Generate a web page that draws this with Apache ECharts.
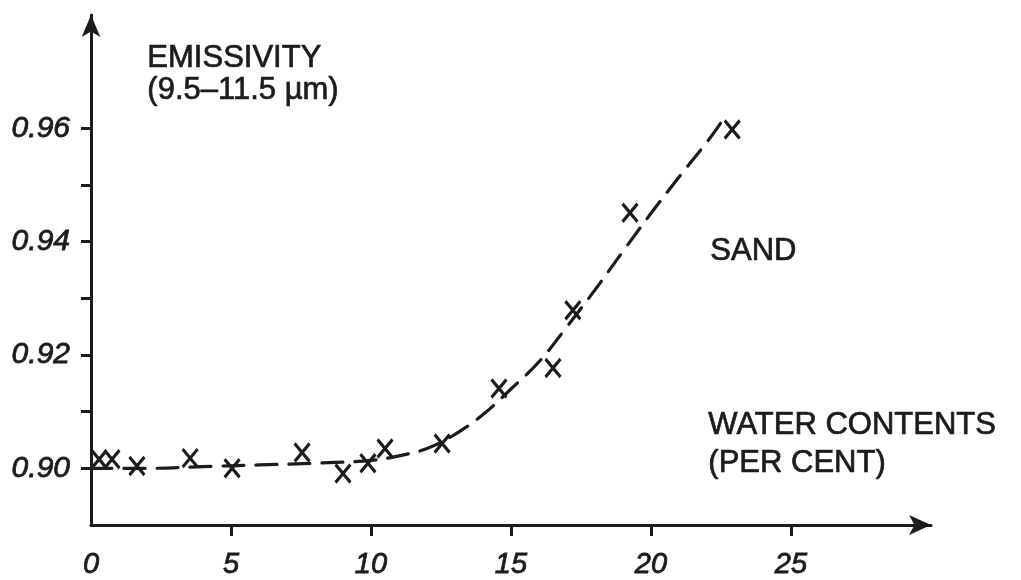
<!DOCTYPE html>
<html>
<head>
<meta charset="utf-8">
<script src="https://cdn.jsdelivr.net/npm/echarts@6/dist/echarts.min.js"></script>
<style>
  html, body { margin: 0; padding: 0; background: #fff; }
  #chart { width: 1021px; height: 580px; }
</style>
</head>
<body>
<div id="chart"></div>
<script>
// Measured emissivity (9.5-11.5 µm band) of sand against water content (%)
const waterContent = [0.29, 0.75, 1.64, 3.54, 5.04, 7.54, 9.0, 9.89, 10.5, 12.54, 14.57, 16.5, 17.21, 19.25, 22.9];
const emissivity   = [0.9016, 0.9016, 0.9004, 0.9018, 0.9000, 0.9028, 0.8991, 0.9009, 0.9035, 0.9044, 0.9141, 0.9177, 0.9279, 0.9451, 0.9598];

// Hand-drawn trend curve through the measurements
const curveX = [0, 2, 4, 6, 8, 10, 11, 12, 13, 14, 15, 16, 17, 18, 19, 20, 21, 22, 22.5];
const curveY = [0.9000, 0.9000, 0.9003, 0.9006, 0.9009, 0.9014, 0.9022, 0.9035, 0.9060, 0.9095, 0.9140, 0.9188, 0.9250, 0.9315, 0.9383, 0.9450, 0.9514, 0.9576, 0.9610];

// Axis ticks and labels
const xTickValues  = [5, 10, 15, 20, 25];
const xLabelValues = [0, 5, 10, 15, 20, 25];
const yTickValues  = [0.90, 0.91, 0.92, 0.93, 0.94, 0.95, 0.96];
const yLabelValues = [0.90, 0.92, 0.94, 0.96];

const INK = '#1c1c1c';
const TEXT_FONT = '31px "Liberation Sans", Arial, sans-serif';
const textStyle = (text) => ({ text, font: TEXT_FONT, fill: INK, stroke: INK, lineWidth: 0.7 });

const chart = echarts.init(document.getElementById('chart'), null, { renderer: 'canvas' });

chart.setOption({
  backgroundColor: '#ffffff',
  animation: false,
  grid: { left: 91, right: 90, top: 15, bottom: 55, containLabel: false },
  xAxis: {
    type: 'value',
    min: 0,
    max: 30,
    interval: 5,
    axisLine: {
      show: true,
      onZero: false,
      symbol: ['none', 'arrow'],
      symbolSize: [15, 22],
      lineStyle: { color: INK, width: 3 }
    },
    axisTick: {
      show: true,
      customValues: xTickValues,
      inside: false,
      length: 11,
      lineStyle: { color: INK, width: 3 }
    },
    axisLabel: {
      show: true,
      customValues: xLabelValues,
      margin: 25,
      color: INK,
      fontFamily: '"Liberation Sans", "DejaVu Sans", sans-serif',
      fontStyle: 'italic',
      fontSize: 29,
      textBorderColor: INK,
      textBorderWidth: 0.8,
      formatter: v => String(v)
    },
    splitLine: { show: false }
  },
  yAxis: {
    type: 'value',
    min: 0.89,
    max: 0.98,
    interval: 0.01,
    axisLine: {
      show: true,
      onZero: false,
      symbol: ['none', 'arrow'],
      symbolSize: [14, 22],
      lineStyle: { color: INK, width: 3 }
    },
    axisTick: {
      show: true,
      customValues: yTickValues,
      inside: false,
      length: 10,
      lineStyle: { color: INK, width: 3 }
    },
    axisLabel: {
      show: true,
      customValues: yLabelValues,
      margin: 21,
      color: INK,
      fontFamily: '"Liberation Sans", "DejaVu Sans", sans-serif',
      fontStyle: 'italic',
      fontSize: 30,
      textBorderColor: INK,
      textBorderWidth: 0.8,
      formatter: v => v.toFixed(2)
    },
    splitLine: { show: false }
  },
  series: [
    {
      name: 'trend',
      type: 'line',
      data: curveX.map((x, i) => [x, curveY[i]]),
      smooth: 0.4,
      showSymbol: false,
      silent: true,
      lineStyle: { color: INK, width: 3.2, type: [21, 12], cap: 'round' },
      z: 2
    },
    {
      name: 'sand',
      type: 'scatter',
      data: waterContent.map((x, i) => [x, emissivity[i]]),
      symbol: 'path://M0,0L15,18M15,0L0,18',
      symbolSize: [15, 18],
      itemStyle: { color: 'rgba(0,0,0,0)', borderColor: INK, borderWidth: 3.2, opacity: 1 },
      z: 3
    }
  ],
  graphic: [
    { type: 'text', left: 147, top: 43, style: textStyle('EMISSIVITY') },
    { type: 'text', left: 147, top: 75, style: textStyle('(9.5\u201311.5 \u00b5m)') },
    { type: 'text', left: 710, top: 236, style: textStyle('SAND') },
    { type: 'text', left: 708, top: 410, style: textStyle('WATER CONTENTS') },
    { type: 'text', left: 708, top: 448, style: textStyle('(PER CENT)') }
  ]
});
</script>
</body>
</html>
